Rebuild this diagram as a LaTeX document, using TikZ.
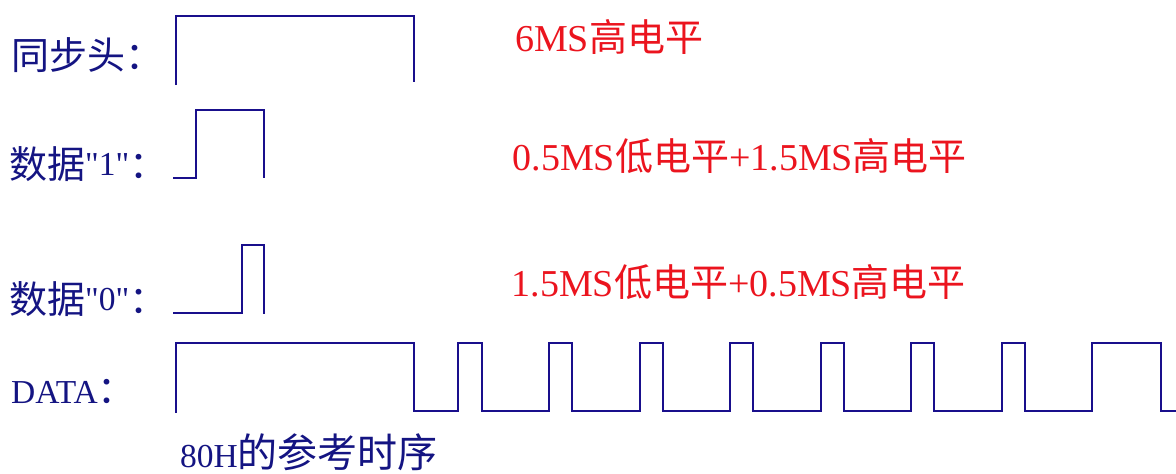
\documentclass[tikz,border=0pt]{standalone}
\usepackage{fontspec}
\setmainfont{Liberation Serif}[Ligatures=TeXOff]
\newfontfamily\cjk{Noto Sans CJK SC}
\definecolor{lblcol}{RGB}{20,20,130}
\definecolor{wavecol}{RGB}{25,15,140}
\definecolor{redcol}{RGB}{235,20,30}
\newcommand{\zh}[1]{{\cjk\fontsize{38}{40}\selectfont #1}}
\newcommand{\zhl}[1]{\raisebox{-3pt}{\cjk\fontsize{38}{40}\selectfont #1}}
\newcommand{\zhb}[1]{{\cjk\fontsize{40}{40}\selectfont #1}}
\newcommand{\la}{\fontsize{33.5}{40}\selectfont}
\newcommand{\lb}{\fontsize{38}{40}\selectfont}
\tikzset{
  wave/.style={draw=wavecol, line width=2pt, line join=miter},
  lbl/.style={anchor=base west, inner sep=0pt, text=lblcol, font=\la},
  note/.style={anchor=base west, inner sep=0pt, text=redcol, font=\lb}
}
\begin{document}
\begin{tikzpicture}[x=1pt,y=-1pt]
\useasboundingbox (0,0) rectangle (1176,474);
% labels
\node[lbl] (l1) at (11,69.5) {\zh{同步头：}};
\node[lbl] (l2) at (9,175.5) {\zhl{数据}"1"\zhl{：}};
\node[lbl] (l3) at (9,310.5) {\zhl{数据}"0"\zhl{：}};
\node[lbl] (l4) at (11,403.3) {DATA\zh{：}};
\node[lbl] (l5) at (180,467.3) {80H\zhb{的参考时序}};
% notes
\node[note] (n1) at (515,51) {6MS\zh{高电平}};
\node[note] (n2) at (512.5,170.7) {0.5MS\zh{低电平}+1.5MS\zh{高电平}};
\node[note] (n3) at (511.5,296) {1.5MS\zh{低电平}+0.5MS\zh{高电平}};
% sync head
\draw[wave] (175.7,85) -- (175.7,16) -- (413.5,16) -- (413.5,82);
% data 1
\draw[wave] (173,177.5) -- (196,177.5) -- (196,109.5) -- (264,109.5) -- (264,178);
% data 0
\draw[wave] (173,313) -- (241.7,313) -- (241.7,244.7) -- (264.3,244.7) -- (264.3,313.5);
% DATA 80H
\draw[wave] (175.7,412.7) -- (175.7,342.5) -- (413.5,342.5) -- (413.5,410.5)
 -- (458,410.5) -- (458,342.5) -- (482,342.5) -- (482,410.5)
 -- (549,410.5) -- (549,342.5) -- (572,342.5) -- (572,410.5)
 -- (639.5,410.5) -- (639.5,342.5) -- (662.5,342.5) -- (662.5,410.5)
 -- (730,410.5) -- (730,342.5) -- (753,342.5) -- (753,410.5)
 -- (820.5,410.5) -- (820.5,342.5) -- (843.5,342.5) -- (843.5,410.5)
 -- (911,410.5) -- (911,342.5) -- (934,342.5) -- (934,410.5)
 -- (1001.5,410.5) -- (1001.5,342.5) -- (1024.5,342.5) -- (1024.5,410.5)
 -- (1092,410.5) -- (1092,342.5) -- (1160.5,342.5) -- (1160.5,410.5)
 -- (1176,410.5);
\end{tikzpicture}
\end{document}
